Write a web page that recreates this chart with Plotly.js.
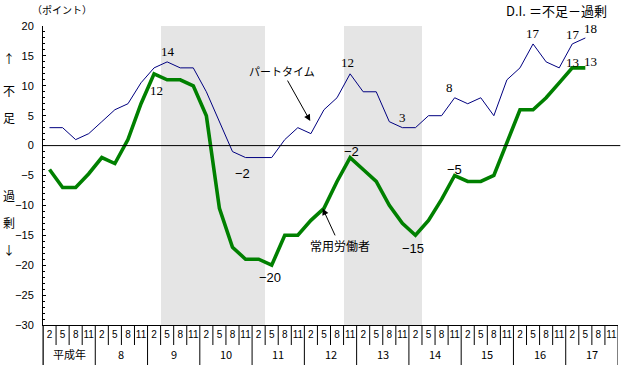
<!DOCTYPE html>
<html>
<head>
<meta charset="utf-8">
<script src="https://cdn.plot.ly/plotly-3.0.1.min.js"></script>
<style>
html,body{margin:0;padding:0;background:#fff;}
#chart{width:621px;height:365px;}
</style>
</head>
<body>
<div id="chart"></div>
<script>
// ---- data ----
var months = ["2", "5", "8", "11"];
var years = ["平成年", "8", "9", "10", "11", "12", "13", "14", "15", "16", "17"];
var partTime = [3, 3, 1, 2, 4, 6, 7, 10.5, 13, 14, 13, 13, 9, 4, -1, -2, -2, -2, 1, 3, 2, 6, 8, 12, 9, 9, 4, 3, 3, 5, 5, 8, 7, 8, 5, 11, 13, 17, 14, 13, 17, 18];
var regular = [-4, -7, -7, -4.7, -2, -3, 1, 7, 12, 11, 11, 10, 5, -10.5, -17, -19, -19, -20, -15, -15, -12.5, -10.5, -6, -2, -4, -6, -10, -13, -15, -12.5, -9, -5, -6, -6, -5, 0.5, 6, 6, 8, 10.5, 13, 13];
var recessionStart = [9, 23];   // first shaded quarter index
var recessionEnd = [16, 28];    // last shaded quarter index

// ---- build ----
var nQ = years.length * months.length;
var qIdx = [], qText = [];
for (var k = 0; k < years.length; k++) {
  for (var m = 0; m < months.length; m++) { qIdx.push(k * 4 + m); qText.push(months[m]); }
}
var xs = partTime.map(function (_, i) { return i; });

var recX = [], recW = [], recBase = [], recY = [];
for (var r = 0; r < recessionStart.length; r++) {
  recX.push((recessionStart[r] + recessionEnd[r]) / 2);
  recW.push(recessionEnd[r] - recessionStart[r] + 1);
  recBase.push(-30); recY.push(50);
}

var traces = [
  {type: 'bar', x: recX, y: recY, base: recBase, width: recW,
   marker: {color: 'white', line: {width: 0},
            pattern: {shape: '.', fgcolor: '#c4c4c4', bgcolor: 'white', size: 2, solidity: 0.5}},
   hoverinfo: 'skip', showlegend: false},
  {type: 'scatter', mode: 'lines', x: xs, y: partTime,
   line: {color: '#000080', width: 1}, showlegend: false},
  {type: 'scatter', mode: 'lines', x: xs, y: regular,
   line: {color: '#008000', width: 3.6}, showlegend: false}
];

var shapes = [];
var plotH = 299;
for (var b = 0; b <= nQ; b++) {
  var isYear = (b % 4 === 0);
  shapes.push({type: 'line', xref: 'x', yref: 'paper', x0: b - 0.5, x1: b - 0.5,
    y0: 0, y1: isYear ? -41 / plotH : -20 / plotH, line: {color: 'black', width: 1}});
}
shapes.push({type: 'line', xref: 'paper', yref: 'paper', x0: 0, x1: 0, y0: 0, y1: -41 / plotH,
  line: {color: 'black', width: 1}});
shapes.push({type: 'line', xref: 'paper', yref: 'y', x0: 0, x1: 1.004, y0: 0, y1: 0,
  layer: 'above', line: {color: 'black', width: 1}});

var jp = 'Noto Sans CJK JP, sans-serif';
var serif = 'Liberation Serif, Times New Roman, serif';
var sans = 'Liberation Sans, Arial, sans-serif';

var ann = [];
function lab(t, x, y, f) {
  ann.push({text: t, x: x, y: y, xref: 'x', yref: 'y', showarrow: false,
    font: {family: f || serif, size: 13, color: 'black'}});
}
lab('14', 9.04, 15.7);
lab('12', 8.2, 9.2);
lab('−2', 14.8, -4.7, sans);
lab('−20', 16.9, -22.1, sans);
lab('12', 22.8, 13.9);
lab('3', 27.0, 4.7);
lab('8', 30.6, 9.7);
lab('17', 37.0, 18.7);
lab('17', 40.05, 18.6);
lab('18', 41.4, 19.6);
lab('13', 40.05, 13.9);
lab('13', 41.4, 14.0);
lab('−2', 23.07, -1.0, sans);
lab('−15', 27.8, -17.2, sans);
lab('−5', 31.0, -4.0, sans);

ann.push({text: 'パートタイム', x: 19.95, y: 4.1, xref: 'x', yref: 'y', showarrow: true,
  ax: -28, ay: -50, arrowhead: 2, arrowsize: 1.3, arrowwidth: 1, arrowcolor: 'black',
  font: {family: jp, size: 11, color: 'black'}});
ann.push({text: '常用労働者', x: 20.9, y: -10.5, xref: 'x', yref: 'y', showarrow: true,
  ax: 17, ay: 37, arrowhead: 2, arrowsize: 1.3, arrowwidth: 1, arrowcolor: 'black',
  font: {family: jp, size: 12, color: 'black'}});

for (var k2 = 0; k2 < years.length; k2++) {
  ann.push({text: years[k2], x: k2 * 4 + 1.5, y: 0, xref: 'x', yref: 'paper', yanchor: 'middle',
    yshift: -29, showarrow: false, font: {family: jp, size: 11, color: 'black'}});
}
function pap(t, px, py, size) {
  ann.push({text: t, x: (px - 43) / 575, y: (325 - py) / plotH, xref: 'paper', yref: 'paper',
    showarrow: false, xanchor: 'center', yanchor: 'middle', borderpad: 0,
    font: {family: jp, size: size, color: 'black'}});
}
pap('（ポイント）', 62, 9, 10);
pap('D.I. ＝不足－過剰', 556, 10, 13);
pap('↑', 9, 58, 12);
pap('不', 9, 90, 12);
pap('足', 9, 117, 12);
pap('過', 9, 195, 12);
pap('剰', 9, 222, 12);
pap('↓', 9, 250, 12);

var layout = {
  width: 621, height: 365,
  margin: {l: 43, r: 3, t: 26, b: 40, pad: 0},
  paper_bgcolor: 'white', plot_bgcolor: 'white',
  showlegend: false, bargap: 0,
  xaxis: {range: [-0.5, nQ - 0.5], showgrid: false, zeroline: false, showline: true,
    linecolor: 'black', linewidth: 1, ticks: '', tickvals: qIdx, ticktext: qText, tickangle: 0,
    tickfont: {family: sans, size: 10, color: 'black'}, fixedrange: true},
  yaxis: {range: [-30, 20], tickvals: [-30, -25, -20, -15, -10, -5, 0, 5, 10, 15, 20],
    showgrid: false, zeroline: false, showline: true, linecolor: 'black', linewidth: 1,
    ticks: 'inside', ticklen: 3, tickcolor: 'black', ticklabelstandoff: 6,
    minor: {dtick: 1, ticks: 'inside', ticklen: 2, tickcolor: 'black'},
    tickfont: {family: sans, size: 11, color: 'black'}, fixedrange: true},
  shapes: shapes,
  annotations: ann
};
Plotly.newPlot('chart', traces, layout, {displayModeBar: false, staticPlot: true});
</script>
</body>
</html>
